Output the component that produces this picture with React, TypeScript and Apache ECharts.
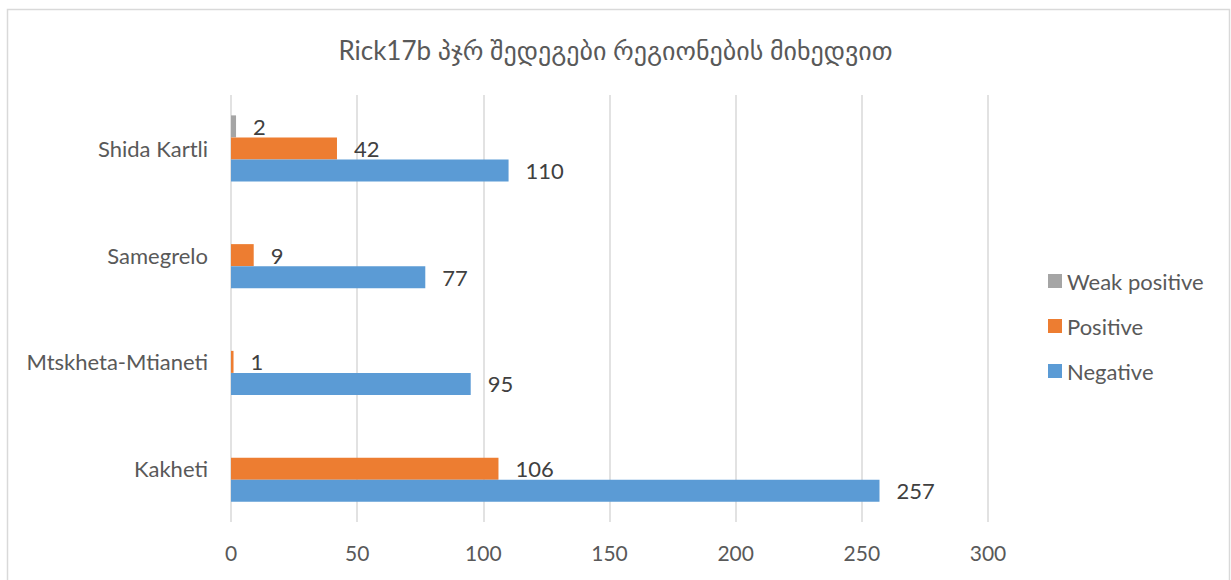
import React, { useEffect, useRef } from "react";
import * as echarts from "echarts";

const categories = ["Kakheti", "Mtskheta-Mtianeti", "Samegrelo", "Shida Kartli"];
const weakPositive = [0, 0, 0, 2];
const positive = [106, 1, 9, 42];
const negative = [257, 95, 77, 110];
const xTicks = { min: 0, max: 300, interval: 50 };
const title = "Rick17b პჯრ შედეგები რეგიონების მიხედვით";

const FONT = "Lato, 'DejaVu Sans', sans-serif";

export default function App() {
  const ref = useRef<HTMLDivElement>(null);
  useEffect(() => {
    if (!ref.current) return;
    const chart = echarts.init(ref.current, undefined, { renderer: "svg" });
    const label = {
      show: true,
      position: "right",
      distance: 17,
      color: "#404040",
      fontSize: 22,
      fontFamily: FONT,
      formatter: (p: any) => (p.value ? String(p.value) : ""),
    };
    chart.setOption({
      animation: false,
      backgroundColor: "#ffffff",
      title: {
        text: title,
        left: "center",
        top: 32,
        textStyle: { color: "#595959", fontSize: 26, fontWeight: "normal", fontFamily: FONT },
      },
      graphic: [
        {
          type: "rect",
          shape: { x: 7.5, y: 9.5, width: 1222, height: 600 },
          style: { fill: "none", stroke: "#D9D9D9", lineWidth: 1.5 },
          silent: true,
        },
      ],
      legend: {
        orient: "vertical",
        left: 1043,
        top: 265,
        itemGap: 23,
        itemWidth: 14,
        itemHeight: 14,
        icon: "rect",
        data: ["Weak positive", "Positive", "Negative"],
        textStyle: { color: "#595959", fontSize: 22, lineHeight: 22, fontFamily: FONT },
      },
      grid: { left: 231, right: 243, top: 95, bottom: 58, containLabel: false },
      xAxis: {
        type: "value",
        min: xTicks.min,
        max: xTicks.max,
        interval: xTicks.interval,
        axisLine: { show: false },
        axisTick: { show: false },
        axisLabel: { color: "#595959", fontSize: 21, fontFamily: FONT, margin: 20 },
        splitLine: { show: true, lineStyle: { color: "#D9D9D9", width: 1.5 } },
      },
      yAxis: {
        type: "category",
        data: categories,
        axisLine: { show: false },
        axisTick: { show: false },
        axisLabel: { color: "#595959", fontSize: 22, fontFamily: FONT, margin: 23 },
      },
      series: [
        {
          name: "Weak positive",
          type: "bar",
          data: weakPositive,
          barWidth: 22,
          barGap: "0%",
          itemStyle: { color: "#A5A5A5" },
          label,
        },
        {
          name: "Positive",
          type: "bar",
          data: positive,
          barWidth: 22,
          barGap: "0%",
          itemStyle: { color: "#ED7D31" },
          label,
        },
        {
          name: "Negative",
          type: "bar",
          data: negative,
          barWidth: 22,
          barGap: "0%",
          itemStyle: { color: "#5B9BD5" },
          label,
        },
      ],
    });
    return () => chart.dispose();
  }, []);
  return (
    <div
      ref={ref}
      style={{ position: "fixed", left: 0, top: 0, width: 1231, height: 580 }}
    />
  );
}
